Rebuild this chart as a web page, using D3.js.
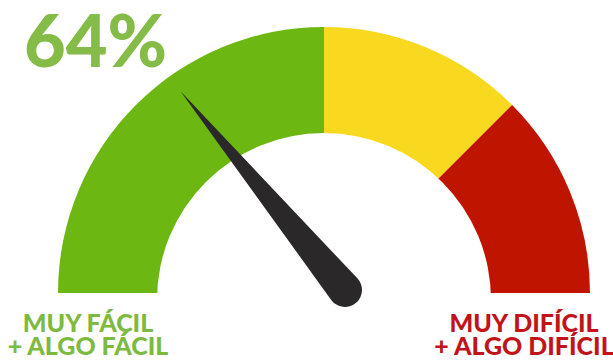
<!DOCTYPE html>
<html>
<head>
<meta charset="utf-8">
<script src="https://cdn.jsdelivr.net/npm/d3@7"></script>
<style>
  html, body { margin: 0; padding: 0; background: #fff; }
  svg { display: block; }
  text { font-family: Lato, "Open Sans", sans-serif; font-weight: 900; }
</style>
</head>
<body>
<svg id="chart" width="613" height="362"></svg>
<script>
// Gauge bands (share of the 0–100 dial, left to right)
const bands = ["fácil", "medio", "difícil"];
const bandShares = [50, 25, 25];
const bandColors = ["#6db713", "#f8d91f", "#be1400"];

// Headline figure and end labels
const headlineValue = 64;
const leftLabels = ["MUY FÁCIL", "+ ALGO FÁCIL"];
const rightLabels = ["MUY DIFÍCIL", "+ ALGO DIFÍCIL"];

// Needle position on the 0–100 dial
const needleValue = 28;

const W = 613, H = 362;
const svg = d3.select("#chart");

const cx = 324, cy = 293, outerR = 266;
const holeCx = 324, holeCy = 300, holeR = 167;

// Dial: 0 at the far left, 100 at the far right
const angle = d3.scaleLinear().domain([0, 100]).range([-Math.PI / 2, Math.PI / 2]);

const pie = d3.pie().sort(null).value(d => d.share)
  .startAngle(angle(0)).endAngle(angle(100));
const arcs = pie(bands.map((b, i) => ({ band: b, share: bandShares[i], color: bandColors[i] })));
const arc = d3.arc().innerRadius(0).outerRadius(outerR);

const dial = svg.append("g").attr("transform", `translate(${cx},${cy})`);
dial.selectAll("path.band").data(arcs).join("path")
  .attr("class", "band")
  .attr("d", arc)
  .attr("fill", d => d.data.color);

// White hub cut out of the dial
svg.append("circle")
  .attr("cx", holeCx).attr("cy", holeCy).attr("r", holeR)
  .attr("fill", "#fff");

// Needle: tapered spike with a rounded base
const pivotX = 345, pivotY = 290, baseR = 17, needleLen = 258;
const alpha = Math.acos(baseR / needleLen);
const tx = baseR * Math.sin(alpha), ty = -baseR * Math.cos(alpha);
const needlePath = `M0,${-needleLen} L${tx},${ty} A${baseR},${baseR} 0 1 1 ${-tx},${ty} Z`;
svg.append("path")
  .attr("d", needlePath)
  .attr("fill", "#2a2829")
  .attr("transform", `translate(${pivotX},${pivotY}) rotate(${angle(needleValue) * 180 / Math.PI})`);

// Headline percentage
svg.append("text")
  .attr("x", 24).attr("y", 67)
  .attr("font-size", 72)
  .attr("fill", "#85bc47")
  .text(headlineValue + "%");

// End labels
function labelBlock(lines, x, color) {
  svg.append("g").selectAll("text").data(lines).join("text")
    .attr("x", x)
    .attr("y", (d, i) => 332 + i * 23)
    .attr("text-anchor", "middle")
    .attr("font-size", 25)
    .attr("fill", color)
    .text(d => d);
}
labelBlock(leftLabels, 88, "#7dba3f");
labelBlock(rightLabels, 524, "#c2131a");
</script>
</body>
</html>
